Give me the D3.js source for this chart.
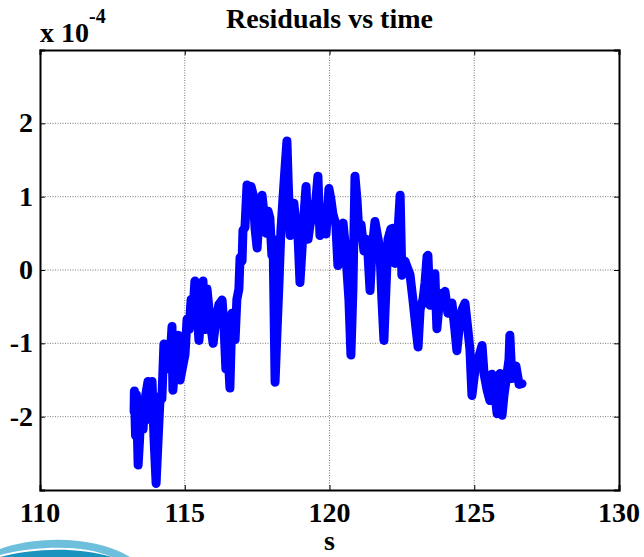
<!DOCTYPE html>
<html>
<head>
<meta charset="utf-8">
<script src="https://cdn.jsdelivr.net/npm/d3@7"></script>
<style>
  body { margin: 0; background: #fff; }
  svg text { font-family: "Liberation Serif", "Times New Roman", serif; font-weight: bold; fill: #000; }
</style>
</head>
<body>
<svg id="plot" width="644" height="557" viewBox="0 0 644 557"></svg>
<script>
// residuals (x 1e-4)
const times = [
  113.25, 113.26, 113.30, 113.33, 113.39, 113.44, 113.49, 113.56, 113.63, 113.73,
  113.80, 113.87, 113.94, 114.01, 114.08, 114.15, 114.21, 114.28, 114.35, 114.42,
  114.49, 114.56, 114.59, 114.66, 114.77, 114.84, 114.94, 115.01, 115.08, 115.15,
  115.22, 115.28, 115.35, 115.42, 115.49, 115.56, 115.63, 115.70, 115.77, 115.87,
  115.98, 116.08, 116.18, 116.29, 116.36, 116.42, 116.49, 116.56, 116.63, 116.74,
  116.80, 116.87, 116.91, 116.98, 117.01, 117.08, 117.15, 117.22, 117.29, 117.36,
  117.43, 117.50, 117.56, 117.67, 117.74, 117.81, 117.88, 117.94, 118.01, 118.05,
  118.12, 118.19, 118.26, 118.32, 118.39, 118.46, 118.53, 118.57, 118.64, 118.70,
  118.77, 118.84, 118.91, 118.98, 119.05, 119.12, 119.19, 119.26, 119.33, 119.43,
  119.53, 119.60, 119.67, 119.74, 119.81, 119.88, 119.98, 120.05, 120.12, 120.22,
  120.29, 120.40, 120.47, 120.54, 120.60, 120.67, 120.74, 120.81, 120.88, 120.95,
  121.02, 121.09, 121.19, 121.26, 121.33, 121.40, 121.47, 121.57, 121.68, 121.74,
  121.81, 121.88, 121.95, 122.02, 122.12, 122.19, 122.26, 122.37, 122.44, 122.50,
  122.61, 122.71, 122.78, 122.88, 122.99, 123.06, 123.13, 123.23, 123.30, 123.37,
  123.40, 123.47, 123.58, 123.64, 123.71, 123.82, 123.92, 123.99, 124.09, 124.23,
  124.33, 124.40, 124.51, 124.58, 124.68, 124.78, 124.85, 124.92, 125.03, 125.13,
  125.27, 125.34, 125.44, 125.54, 125.61, 125.68, 125.79, 125.85, 125.89, 125.96,
  126.03, 126.13, 126.20, 126.23, 126.30, 126.37, 126.44, 126.55, 126.65
];
const residuals = [
  -1.93, -1.65, -2.26, -1.70, -2.66, -2.31, -1.83, -2.17, -1.76, -1.52,
  -2.04, -1.52, -2.31, -2.91, -2.31, -1.72, -1.76, -1.01, -1.35, -1.08,
  -1.22, -0.77, -1.64, -1.29, -0.89, -1.50, -1.29, -1.15, -0.67, -0.81,
  -0.40, -0.60, -0.15, -0.54, -0.96, -0.60, -0.15, -0.81, -0.26, -0.67,
  -1.00, -0.67, -0.47, -0.41, -0.81, -1.35, -1.08, -1.61, -0.59, -0.95,
  -0.40, -0.26, 0.17, 0.12, 0.54, 0.58, 1.16, 0.96, 1.14, 1.03,
  0.56, 0.30, 0.69, 1.02, 0.76, 0.50, 0.80, 0.71, 0.20, 0.42,
  -1.53, -0.81, -0.13, 0.53, 0.96, 1.37, 1.76, 1.24, 0.47, 0.76,
  0.91, 0.62, 0.49, -0.17, 0.28, 0.76, 1.14, 0.42, 0.62, 0.76,
  0.96, 1.28, 0.47, 0.62, 0.80, 0.49, 1.11, 0.96, 0.76, 0.62,
  0.06, 0.49, 0.64, 0.35, 0.01, -0.40, -1.16, -0.26, 1.28, 0.96,
  0.49, 0.62, 0.26, 0.42, 0.21, -0.28, 0.28, 0.66, 0.42, 0.28,
  -0.40, -0.96, -0.26, 0.42, 0.56, 0.57, 0.09, 0.56, 1.02, -0.07,
  0.12, 0.01, -0.06, -0.40, -0.81, -1.05, -0.54, -0.40, -0.17, 0.19,
  0.20, -0.48, -0.13, -0.05, -0.80, -0.32, -0.40, -0.29, -0.59, -0.45,
  -0.81, -1.10, -0.67, -0.54, -0.45, -0.81, -1.08, -1.71, -1.35, -1.22,
  -1.03, -1.42, -1.63, -1.78, -1.42, -1.56, -1.96, -1.56, -1.41, -1.98,
  -1.70, -1.42, -1.22, -0.89, -1.48, -1.35, -1.31, -1.56, -1.55
];
const xTicks = [110, 115, 120, 125, 130];
const yTicks = [-2, -1, 0, 1, 2];

function whenDocumentLoaded(action) {
	if (document.readyState === "loading") {
		document.addEventListener("DOMContentLoaded", action);
	} else {
		action();
	}
}

function drawChart() {
	const svg = d3.select('#plot');
	const margin = { top: 50, right: 25, bottom: 67, left: 40 };
	const width  = 644 - margin.left - margin.right;
	const height = 557 - margin.top  - margin.bottom;

	const plot_area = svg.append('g')
	    .attr('transform', `translate(${margin.left},${margin.top})`);

	const x_scale = d3.scaleLinear().domain([110, 130]).range([0, width]);
	const y_scale = d3.scaleLinear().domain([-3, 3]).range([height, 0]);

	// grid (dotted, like matlab)
	plot_area.selectAll('line.vgrid')
	  .data(xTicks.slice(1, -1))
	  .enter().append('line')
	  .attr('class', 'vgrid')
	  .attr('x1', d => x_scale(d)).attr('x2', d => x_scale(d))
	  .attr('y1', 0).attr('y2', height)
	  .attr('stroke', '#7a7a7a').attr('stroke-width', 1)
	  .attr('stroke-dasharray', '1,1.5');
	plot_area.selectAll('line.hgrid')
	  .data(yTicks)
	  .enter().append('line')
	  .attr('class', 'hgrid')
	  .attr('x1', 0).attr('x2', width)
	  .attr('y1', d => y_scale(d)).attr('y2', d => y_scale(d))
	  .attr('stroke', '#7a7a7a').attr('stroke-width', 1)
	  .attr('stroke-dasharray', '1,1.5');

	// the residual curve
	const data = times.map((t, i) => ({ x: t, y: residuals[i] }));
	const lineGenerator = d3.line()
	    .x(d => x_scale(d.x))
	    .y(d => y_scale(d.y));
	plot_area.append('path')
	  .datum(data)
	  .attr('d', lineGenerator)
	  .attr('fill', 'none')
	  .attr('stroke', '#0000ff')
	  .attr('stroke-width', 9)
	  .attr('stroke-linejoin', 'round')
	  .attr('stroke-linecap', 'round');

	// axes with inward ticks
	const xAxis = d3.axisBottom(x_scale).tickValues(xTicks).tickSize(-5).tickFormat('');
	const xAxisTop = d3.axisTop(x_scale).tickValues(xTicks).tickSize(-5).tickFormat('');
	const yAxis = d3.axisLeft(y_scale).tickValues(yTicks).tickSize(-5).tickFormat('');
	const yAxisRight = d3.axisRight(y_scale).tickValues(yTicks).tickSize(-5).tickFormat('');

	plot_area.append('g').attr('transform', `translate(0,${height})`).call(xAxis);
	plot_area.append('g').call(xAxisTop);
	plot_area.append('g').call(yAxis);
	plot_area.append('g').attr('transform', `translate(${width},0)`).call(yAxisRight);
	plot_area.selectAll('.domain').attr('stroke', '#000').attr('stroke-width', 2);
	plot_area.selectAll('.tick line').attr('stroke', '#000').attr('stroke-width', 1);

	// tick labels
	plot_area.selectAll('text.xlab')
	  .data(xTicks)
	  .enter().append('text')
	  .attr('class', 'xlab')
	  .attr('x', d => x_scale(d))
	  .attr('y', height + 32)
	  .attr('text-anchor', 'middle')
	  .style('font-size', '28px')
	  .text(d => d);
	plot_area.selectAll('text.ylab')
	  .data(yTicks)
	  .enter().append('text')
	  .attr('class', 'ylab')
	  .attr('x', -7)
	  .attr('y', d => y_scale(d) + 9)
	  .attr('text-anchor', 'end')
	  .style('font-size', '28px')
	  .text(d => d);

	// exponent
	const expo = svg.append('text').attr('x', 40).attr('y', 42).style('font-size', '28px');
	expo.append('tspan').text('x 10');
	expo.append('tspan').attr('dy', -19).style('font-size', '20px').text('-4');

	// title and x label
	svg.append('text')
	  .attr('x', margin.left + width / 2)
	  .attr('y', 28)
	  .attr('text-anchor', 'middle')
	  .style('font-size', '28px')
	  .text('Residuals vs time');
	svg.append('text')
	  .attr('x', margin.left + width / 2)
	  .attr('y', 550)
	  .attr('text-anchor', 'middle')
	  .style('font-size', '28px')
	  .text('s');

	// bit of the logo peeking in at the bottom left
	const logo = svg.append('g');
	logo.append('path')
	  .attr('d', 'M0,549 C30,538 90,533 130,557 L112,557 C85,545 40,545 0,555 Z')
	  .attr('fill', '#6dbfdc');
	logo.append('path')
	  .attr('d', 'M0,557 C30,549 75,546 112,557 Z')
	  .attr('fill', '#1b93bf');
}

whenDocumentLoaded(() => {
	drawChart();
});
</script>
</body>
</html>
